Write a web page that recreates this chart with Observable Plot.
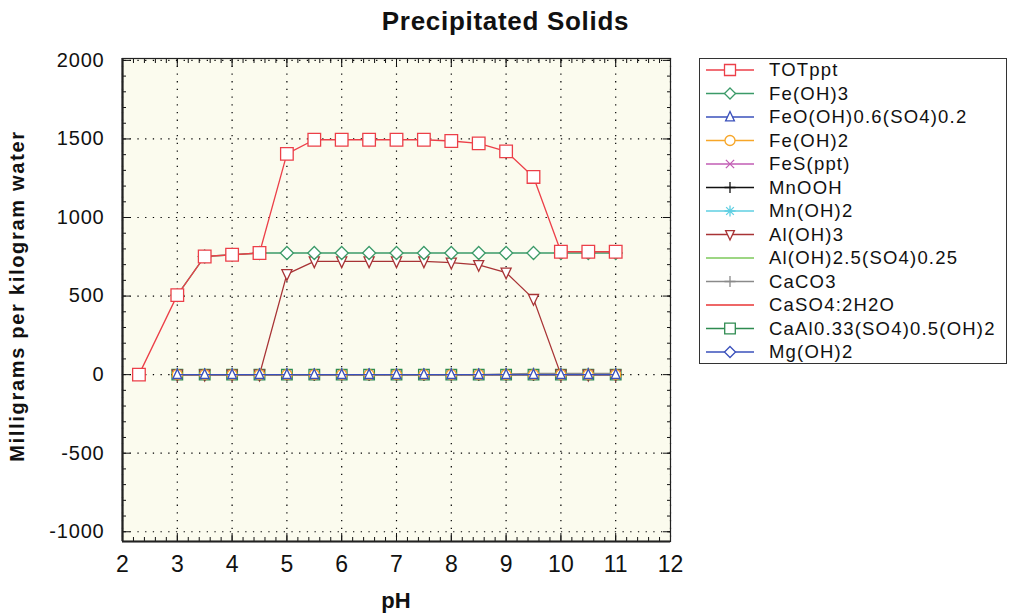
<!DOCTYPE html>
<html><head><meta charset="utf-8">
<script src="https://cdn.jsdelivr.net/npm/d3@7"></script>
<script src="https://cdn.jsdelivr.net/npm/@observablehq/plot@0.6"></script>
<style>
body{margin:0;background:#fff;font-family:"Liberation Sans",Arial,sans-serif;}
#wrap{position:relative;width:1011px;height:615px;overflow:hidden;background:#fff}
.title{position:absolute;top:4px;left:0;width:1011px;text-align:center;font-weight:bold;font-size:26px;letter-spacing:0.7px;color:#111;line-height:34px}
.ylab{position:absolute;left:-233px;top:283px;width:500px;height:26px;line-height:26px;text-align:center;font-weight:bold;font-size:20px;letter-spacing:1.7px;transform:rotate(-90deg);transform-origin:center;color:#111}
.xlab{position:absolute;left:346px;top:587px;width:100px;text-align:center;font-weight:bold;font-size:22px;color:#111;line-height:28px}
#legend{position:absolute;left:699px;top:58px;width:306px;height:304px;border:1.5px solid #333;background:#fff}
</style></head>
<body>
<div id="wrap">
  <div class="title">Precipitated Solids</div>
  <div class="ylab">Milligrams per kilogram water</div>
  <div class="xlab">pH</div>
  <div id="legend"></div>
</div>
<script>
// ---- data ----
const pH = [2.3, 3, 3.5, 4, 4.5, 5, 5.5, 6, 6.5, 7, 7.5, 8, 8.5, 9, 9.5, 10, 10.5, 11];
const TOTppt       = [0, 506, 752, 763, 774, 1405, 1495, 1495, 1495, 1495, 1495, 1487, 1472, 1421, 1258, 782, 782, 782];
const FeOH3        = [null, 506, 752, 763, 774, 774, 774, 774, 774, 774, 774, 774, 774, 774, 774, 774, 774, 774];
const FeOOHSO4     = [null, 0, 0, 0, 0, 0, 0, 0, 0, 0, 0, 0, 0, 0, 0, 0, 0, 0];
const FeOH2        = [null, 0, 0, 0, 0, 0, 0, 0, 0, 0, 0, 0, 0, 0, 0, 0, 0, 0];
const FeS          = [null, 0, 0, 0, 0, 0, 0, 0, 0, 0, 0, 0, 0, 0, 0, 0, 0, 0];
const MnOOH        = [null, 0, 0, 0, 0, 0, 0, 0, 0, 0, 0, 0, 0, 0, 0, 0, 0, 0];
const MnOH2        = [null, 0, 0, 0, 0, 0, 0, 0, 0, 0, 0, 0, 0, 0, 0, 0, 0, 0];
const AlOH3        = [null, 0, 0, 0, 0, 640, 721, 721, 721, 721, 721, 713, 698, 650, 482, 0, 0, 0];
const AlOHSO4      = [null, 0, 0, 0, 0, 0, 0, 0, 0, 0, 0, 0, 0, 0, 0, 0, 0, 0];
const CaCO3        = [null, 0, 0, 0, 0, 0, 0, 0, 0, 0, 0, 0, 0, 4, 8, 8, 8, 8];
const CaSO4        = [null, 0, 0, 0, 0, 0, 0, 0, 0, 0, 0, 0, 0, 0, 0, 0, 0, 0];
const CaAlSO4OH    = [null, 0, 0, 0, 0, 0, 0, 0, 0, 0, 0, 0, 0, 0, 0, 0, 0, 0];
const MgOH2        = [null, 0, 0, 0, 0, 0, 0, 0, 0, 0, 0, 0, 0, 0, 0, 0, 0, 0];
const names = ["TOTppt","Fe(OH)3","FeO(OH)0.6(SO4)0.2","Fe(OH)2","FeS(ppt)","MnOOH","Mn(OH)2","Al(OH)3","Al(OH)2.5(SO4)0.25","CaCO3","CaSO4:2H2O","CaAl0.33(SO4)0.5(OH)2","Mg(OH)2"];
const xTicks = [2,3,4,5,6,7,8,9,10,11,12];
const yTicks = [-1000,-500,0,500,1000,1500,2000];

// ---- symbols (size -> radius) ----
const R = s => Math.sqrt(s / Math.PI);
const sym = {
  square:{draw(c,s){const r=R(s);c.moveTo(-r,-r);c.lineTo(r,-r);c.lineTo(r,r);c.lineTo(-r,r);c.closePath();}},
  diamond:{draw(c,s){const r=R(s);c.moveTo(0,-r);c.lineTo(r,0);c.lineTo(0,r);c.lineTo(-r,0);c.closePath();}},
  triUp:{draw(c,s){const r=R(s);c.moveTo(0,-r);c.lineTo(r*0.8,r*0.7);c.lineTo(-r*0.8,r*0.7);c.closePath();}},
  triDown:{draw(c,s){const r=R(s);c.moveTo(0,r);c.lineTo(r*0.8,-r*0.7);c.lineTo(-r*0.8,-r*0.7);c.closePath();}},
  circle:{draw(c,s){const r=R(s);c.moveTo(r,0);c.arc(0,0,r,0,2*Math.PI);}},
  times:{draw(c,s){const r=R(s)*0.75;c.moveTo(-r,-r);c.lineTo(r,r);c.moveTo(r,-r);c.lineTo(-r,r);}},
  plus:{draw(c,s){const r=R(s);c.moveTo(-r,0);c.lineTo(r,0);c.moveTo(0,-r);c.lineTo(0,r);}},
  asterisk:{draw(c,s){const r=R(s);c.moveTo(-r,0);c.lineTo(r,0);c.moveTo(0,-r);c.lineTo(0,r);const q=r*0.7;c.moveTo(-q,-q);c.lineTo(q,q);c.moveTo(q,-q);c.lineTo(-q,q);}}
};

const series = [
  {name:names[0],  values:TOTppt,    color:"#ec3f48", symbol:"square",  r:6.3},
  {name:names[1],  values:FeOH3,     color:"#3b9a68", symbol:"diamond", r:6.5},
  {name:names[2],  values:FeOOHSO4,  color:"#3a50bb", symbol:"triUp",   r:5.5},
  {name:names[3],  values:FeOH2,     color:"#f7a628", symbol:"circle",  r:5},
  {name:names[4],  values:FeS,       color:"#c25cb4", symbol:"times",   r:5.5},
  {name:names[5],  values:MnOOH,     color:"#111111", symbol:"plus",    r:6},
  {name:names[6],  values:MnOH2,     color:"#5fcfe2", symbol:"asterisk",r:6},
  {name:names[7],  values:AlOH3,     color:"#a83335", symbol:"triDown", r:6.3},
  {name:names[8],  values:AlOHSO4,   color:"#7cc95a", symbol:null},
  {name:names[9],  values:CaCO3,     color:"#8a8a8a", symbol:"plus",    r:6},
  {name:names[10], values:CaSO4,     color:"#e83434", symbol:null},
  {name:names[11], values:CaAlSO4OH, color:"#2e8b50", symbol:"square",  r:5.3},
  {name:names[12], values:MgOH2,     color:"#3a50bb", symbol:"diamond", r:5.5}
];

const marks = [
  Plot.frame({fill:"#fbfbee", stroke:null}),
  Plot.gridX({ticks:xTicks, stroke:"#000", strokeOpacity:1, strokeWidth:1.2, strokeDasharray:"1.3,6.4"}),
  Plot.gridY({ticks:yTicks, stroke:"#000", strokeOpacity:1, strokeWidth:1.2, strokeDasharray:"1.3,6.4"}),
  // inward ticks
  Plot.axisX({anchor:"bottom", ticks:d3.range(2,12.01,0.2), tickSize:-4, tickFormat:()=>"", label:null}),
  Plot.axisX({anchor:"top", ticks:d3.range(2,12.01,0.2), tickSize:-4, tickFormat:()=>"", label:null}),
  Plot.axisX({anchor:"bottom", ticks:xTicks, tickSize:-8, tickFormat:()=>"", label:null}),
  Plot.axisX({anchor:"top", ticks:xTicks, tickSize:-8, tickFormat:()=>"", label:null}),
  Plot.axisY({anchor:"left", ticks:d3.range(-1000,2001,100), tickSize:-4, tickFormat:()=>"", label:null}),
  Plot.axisY({anchor:"right", ticks:d3.range(-1000,2001,100), tickSize:-4, tickFormat:()=>"", label:null}),
  Plot.axisY({anchor:"left", ticks:yTicks, tickSize:-8, tickFormat:()=>"", label:null}),
  Plot.axisY({anchor:"right", ticks:yTicks, tickSize:-8, tickFormat:()=>"", label:null}),
  // labels
  Plot.axisX({anchor:"bottom", ticks:xTicks, tickSize:0, tickPadding:14, label:null, fontSize:23}),
  Plot.axisY({anchor:"left", ticks:yTicks, tickSize:0, tickPadding:18, label:null, fontSize:20, tickFormat:d=>String(d)})
];

for (const s of series.slice().reverse()) {
  const data = pH.map((x,i)=>({pH:x, v:s.values[i]})).filter(d=>d.v!=null);
  marks.push(Plot.line(data, {x:"pH", y:"v", stroke:s.color, strokeWidth:1.3}));
  if (s.symbol) marks.push(Plot.dot(data, {x:"pH", y:"v", symbol:sym[s.symbol], r:s.r, stroke:s.color, fill:"white", strokeWidth:1.3}));
}
marks.push(Plot.frame({stroke:"#222", strokeWidth:1.2}));
marks.push(Plot.ruleX([2], {stroke:"#222", strokeWidth:2.2}));
marks.push(Plot.ruleY([-1062], {stroke:"#222", strokeWidth:2.2}));

const chart = Plot.plot({
  width:1011, height:615,
  marginLeft:122, marginRight:341, marginTop:58, marginBottom:74,
  x:{domain:[2,12]},
  y:{domain:[-1062,2012]},
  style:{fontFamily:"Liberation Sans, Arial, sans-serif", fontSize:"18px", background:"transparent", color:"#111"},
  marks
});
chart.style.position="absolute"; chart.style.left="0"; chart.style.top="0";
d3.select(chart).selectAll('g[aria-label="y-axis tick label"] text').style("letter-spacing","0.8px");
document.getElementById("wrap").prepend(chart);

// ---- legend ----
const lg = d3.select("#legend").append("svg").attr("width",306).attr("height",304);
series.forEach((s,i)=>{
  const y = 11 + i*23.5;
  const g = lg.append("g").attr("transform",`translate(0,${y})`);
  g.append("line").attr("x1",6).attr("x2",54).attr("y1",0).attr("y2",0).attr("stroke",s.color).attr("stroke-width",1.3);
  if (s.symbol) {
    const r = Math.min(s.r, 5.5);
    g.append("path").attr("transform","translate(30,0)").attr("d", d3.symbol(sym[s.symbol], Math.PI*r*r)())
      .attr("fill","white").attr("stroke",s.color).attr("stroke-width",1.3);
  }
  g.append("text").attr("x",69).attr("y",0).attr("dy","0.35em").attr("font-size",18.5).attr("letter-spacing","1.2px").attr("fill","#111").text(s.name);
});
</script>
</body></html>
